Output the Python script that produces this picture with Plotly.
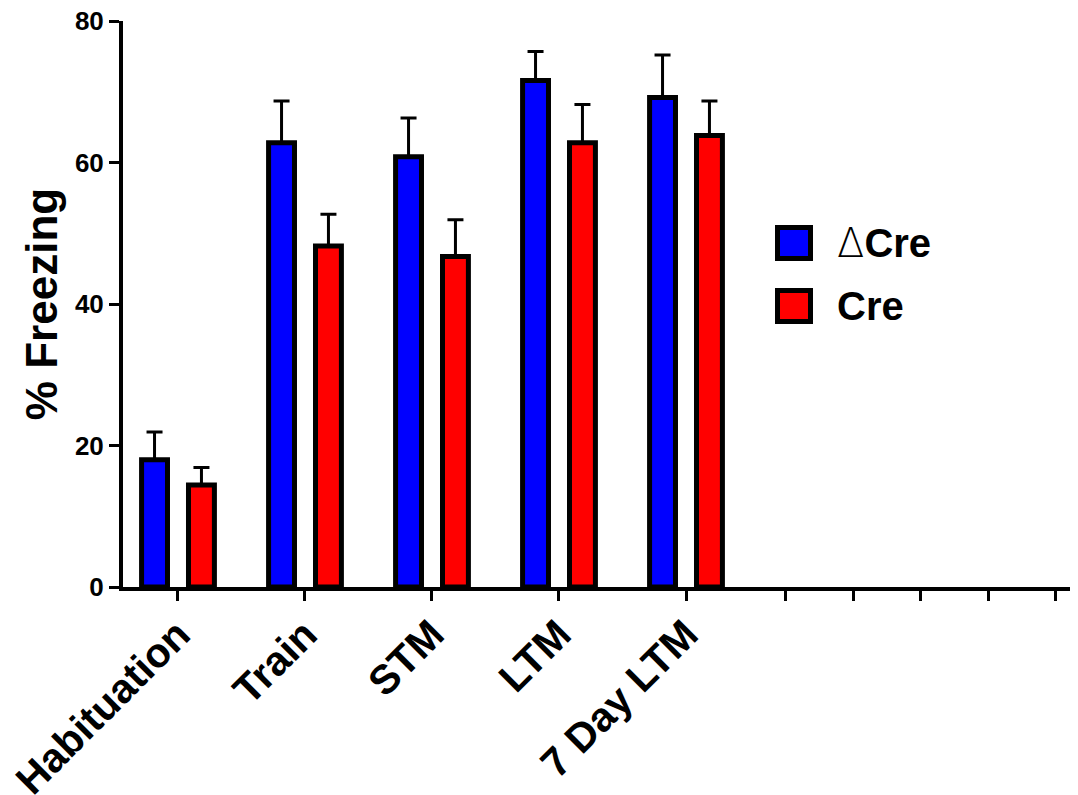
import plotly.graph_objects as go

# ---- data ----
categories = ["Habituation", "Train", "STM", "LTM", "7 Day LTM"]
dcre_mean = [18.0, 62.8, 60.8, 71.6, 69.2]
dcre_err = [3.9, 5.9, 5.5, 4.1, 6.0]
cre_mean = [14.4, 48.2, 46.7, 62.8, 63.8]
cre_err = [2.5, 4.5, 5.2, 5.4, 4.9]
series_names = ["\u0394Cre", "Cre"]
y_ticks = [0, 20, 40, 60, 80]
extra_ticks = [4.787, 5.315, 5.850, 6.378, 6.913]  # unlabeled ticks on the x axis

# ---- geometry (reference pixel layout; page body adds an 8px margin) ----
OFF = 8
W, H = 1078 - OFF, 795 - OFF
L, R, T, B = 123, 1075, 21, 587          # plot area in reference pixels
FONT = "Liberation Sans, Arial, sans-serif"

def px_x(p):
    return (p - L) / (R - L)

def px_y(p):
    return (B - p) / (B - T)

x_pos = list(range(len(categories)))
bar_w = 0.204
half_gap = 0.1847

fig = go.Figure()
fig.add_trace(go.Bar(
    x=x_pos, y=dcre_mean, name=series_names[0],
    width=bar_w, offset=-half_gap - bar_w / 2,
    marker=dict(color="#0000FF", line=dict(color="black", width=5)),
    error_y=dict(type="data", symmetric=False, array=dcre_err,
                 arrayminus=[0] * len(dcre_err),
                 color="black", thickness=3, width=8),
    showlegend=False,
))
fig.add_trace(go.Bar(
    x=x_pos, y=cre_mean, name=series_names[1],
    width=bar_w, offset=half_gap - bar_w / 2,
    marker=dict(color="#FF0000", line=dict(color="black", width=5)),
    error_y=dict(type="data", symmetric=False, array=cre_err,
                 arrayminus=[0] * len(cre_err),
                 color="black", thickness=3, width=8),
    showlegend=False,
))

# ---- manual legend (large boxed squares) ----
legend_items = [("#0000FF", series_names[0], 225, 261),
                ("#FF0000", series_names[1], 288, 324)]
for color, label, y0, y1 in legend_items:
    fig.add_shape(type="rect", xref="paper", yref="paper",
                  x0=px_x(777.5), x1=px_x(810.5), y0=px_y(y1 - 2.5), y1=px_y(y0 + 2.5),
                  fillcolor=color, line=dict(color="black", width=5))
    txt = label
    if label.startswith("\u0394"):
        txt = ("<span style=\"font-family:'DejaVu Sans';font-weight:200\">\u0394</span>"
               + label[1:])
    fig.add_annotation(xref="paper", yref="paper", x=px_x(835), y=px_y((y0 + y1) / 2),
                       text=txt, showarrow=False, xanchor="left", yanchor="middle",
                       font=dict(family=FONT, size=40, color="black", weight="bold"))

fig.update_layout(
    template="none",
    width=W, height=H,
    margin=dict(l=L - OFF, r=W - (R - OFF), t=T - OFF, b=H - (B - OFF), pad=0,
                autoexpand=False),
    paper_bgcolor="white", plot_bgcolor="white",
    barmode="overlay",
    font=dict(family=FONT, color="black"),
    showlegend=False,
)
fig.update_xaxes(
    automargin=False,
    range=[-0.433, 7.063],
    tickvals=x_pos + extra_ticks,
    ticktext=categories + [""] * len(extra_ticks),
    tickangle=-45,
    ticklabeloverflow="allow",
    ticklabelstandoff=-7,
    tickfont=dict(family=FONT, size=41, color="black", weight="bold"),
    ticks="outside", ticklen=10, tickwidth=3, tickcolor="black",
    showline=True, linewidth=4, linecolor="black",
    showgrid=False, zeroline=False,
)
fig.update_yaxes(
    automargin=False,
    range=[0, 80],
    tickvals=y_ticks,
    ticklabeloverflow="allow",
    tickfont=dict(family=FONT, size=26, color="black", weight="bold"),
    ticks="outside", ticklen=10, tickwidth=3, tickcolor="black",
    showline=True, linewidth=4, linecolor="black",
    showgrid=False, zeroline=False,
    title=dict(text="% Freezing", standoff=4,
               font=dict(family=FONT, size=44, color="black", weight="bold")),
)

fig.write_html("out.html")
